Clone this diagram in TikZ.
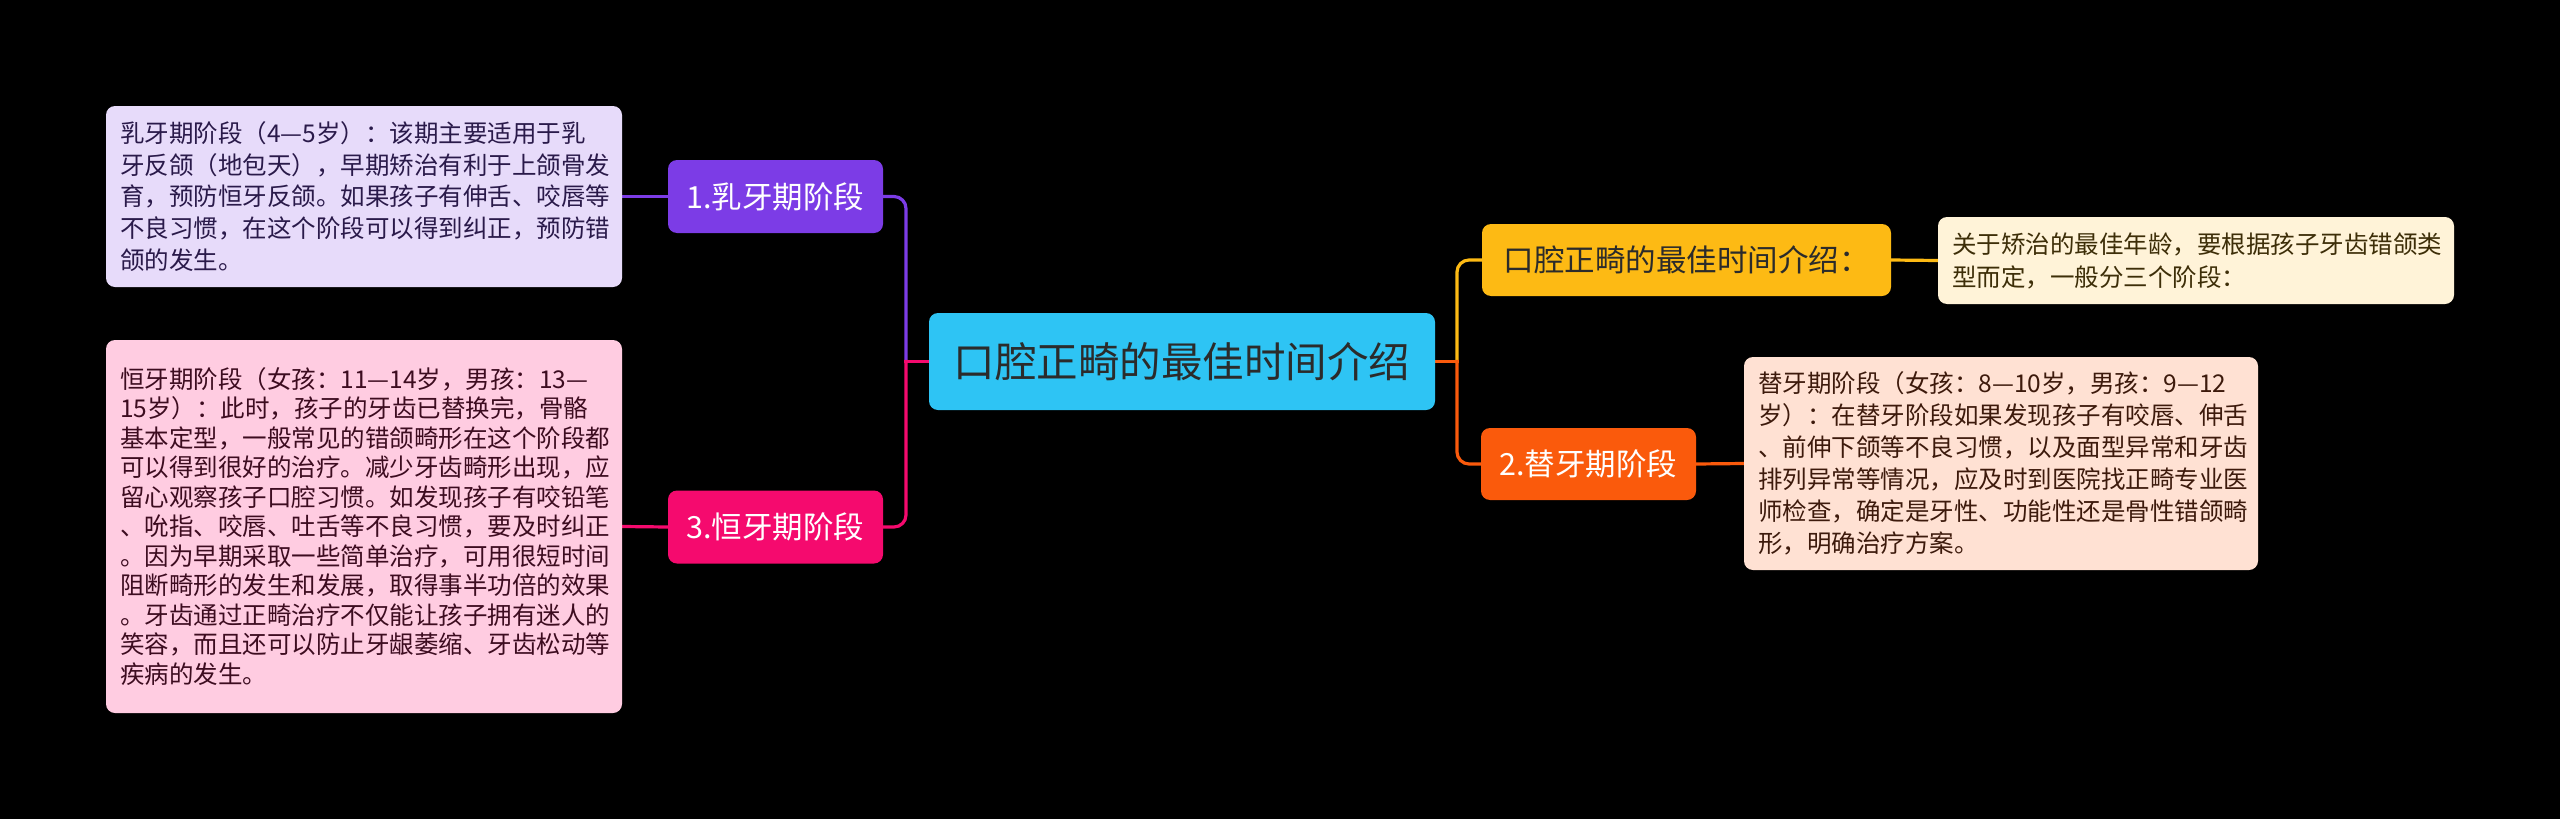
\documentclass[tikz,border=0pt]{standalone}
\usepackage{fontspec}
\setmainfont{Noto Sans CJK SC}
\pgfdeclarelayer{back}
\pgfdeclarelayer{lines}
\pgfsetlayers{back,lines,main}
\definecolor{cyanc}{HTML}{2EC4F4}
\definecolor{purc}{HTML}{7C3CE6}
\definecolor{pinkc}{HTML}{F50A6E}
\definecolor{yelc}{HTML}{FDBA14}
\definecolor{orac}{HTML}{FA5A0C}
\definecolor{purl}{HTML}{E7DBFA}
\definecolor{pinkl}{HTML}{FFCCE1}
\definecolor{yell}{HTML}{FFF3D8}
\definecolor{oral}{HTML}{FFE1D3}
\definecolor{darkt}{HTML}{2B2B2B}
\definecolor{purt}{HTML}{2A1A4A}
\definecolor{pinkt}{HTML}{3D0C20}
\definecolor{yelt}{HTML}{3D2E08}
\definecolor{orat}{HTML}{3D1A0C}
\begin{document}
\begin{tikzpicture}[x=1pt,y=-1pt,
  box/.style={rounded corners=9pt, inner sep=0pt, draw=none},
  mainbox/.style={box, fill=cyanc, minimum width=506pt, minimum height=97pt, text=darkt, font=\fontsize{41.5}{48}\selectfont},
  branch/.style={box, minimum height=73pt, font=\fontsize{30.5}{36}\selectfont},
  note/.style={box, text width=488pt, inner xsep=14pt, align=left},
  conn/.style={line width=3.2pt, line cap=rect}
]
\begin{pgfonlayer}{back}
\fill[black] (0,0) rectangle (2560,819);
\end{pgfonlayer}
\useasboundingbox (0,0) rectangle (2560,819);

% central topic
\node[mainbox] (c) at (1182,361.5) {口腔正畸的最佳时间介绍};

% branches
\node[branch, fill=purc, text=white, minimum width=215pt] (n1) at (775.5,196.5) {1.乳牙期阶段};
\node[branch, fill=pinkc, text=white, minimum width=215pt] (n3) at (775.5,527) {3.恒牙期阶段};
\node[branch, fill=yelc, text=darkt, minimum width=409pt, minimum height=72pt] (ny) at (1686.5,260) {口腔正畸的最佳时间介绍：};
\node[branch, fill=orac, text=white, minimum width=215pt, minimum height=72pt] (no) at (1588.5,464) {2.替牙期阶段};

% notes
\node[note, fill=purl, text=purt, minimum height=181pt, font=\fontsize{24.5}{31.7}\selectfont] (t1) at (364,196.5) {乳牙期阶段（4—5岁）：该期主要适用于乳\\牙反颌（地包天），早期矫治有利于上颌骨发\\育，预防恒牙反颌。如果孩子有伸舌、咬唇等\\不良习惯，在这个阶段可以得到纠正，预防错\\颌的发生。};

\node[note, fill=pinkl, text=pinkt, minimum height=373pt, font=\fontsize{24.5}{29.5}\selectfont] (t3) at (364,526.5) {恒牙期阶段（女孩：11—14岁，男孩：13—\\15岁）：此时，孩子的牙齿已替换完，骨骼\\基本定型，一般常见的错颌畸形在这个阶段都\\可以得到很好的治疗。减少牙齿畸形出现，应\\留心观察孩子口腔习惯。如发现孩子有咬铅笔\\、吮指、咬唇、吐舌等不良习惯，要及时纠正\\。因为早期采取一些简单治疗，可用很短时间\\阻断畸形的发生和发展，取得事半功倍的效果\\。牙齿通过正畸治疗不仅能让孩子拥有迷人的\\笑容，而且还可以防止牙龈萎缩、牙齿松动等\\疾病的发生。};

\node[note, fill=yell, text=yelt, minimum height=87pt, font=\fontsize{24.5}{33}\selectfont] (ty) at (2196,260.5) {关于矫治的最佳年龄，要根据孩子牙齿错颌类\\型而定，一般分三个阶段：};

\node[note, fill=oral, text=orat, minimum height=213pt, text width=486pt, font=\fontsize{24.5}{32}\selectfont] (to) at (2001,463.5) {替牙期阶段（女孩：8—10岁，男孩：9—12\\岁）：在替牙阶段如果发现孩子有咬唇、伸舌\\、前伸下颌等不良习惯，以及面型异常和牙齿\\排列异常等情况，应及时到医院找正畸专业医\\师检查，确定是牙性、功能性还是骨性错颌畸\\形，明确治疗方案。};

% connectors
\coordinate (jl) at (906,361.5);
\coordinate (jr) at (1457,361.5);
\begin{pgfonlayer}{lines}
\draw[conn, purc, rounded corners=12pt] (n1.east) -| (jl);
\draw[conn, pinkc, rounded corners=12pt] (n3.east) -| (jl);
\draw[conn, pinkc] (jl) -- (c.west);
\draw[conn, yelc, rounded corners=12pt] (ny.west) -| (jr);
\draw[conn, orac, rounded corners=12pt] (no.west) -| (jr);
\draw[conn, orac] (c.east) -- (jr);
\draw[conn, purc] (n1.west) -- (t1.east);
\draw[conn, pinkc] (n3.west) -- (t3.east);
\draw[conn, yelc] (ny.east) -- (ty.west);
\draw[conn, orac] (no.east) -- (to.west);
\end{pgfonlayer}
\end{tikzpicture}
\end{document}
